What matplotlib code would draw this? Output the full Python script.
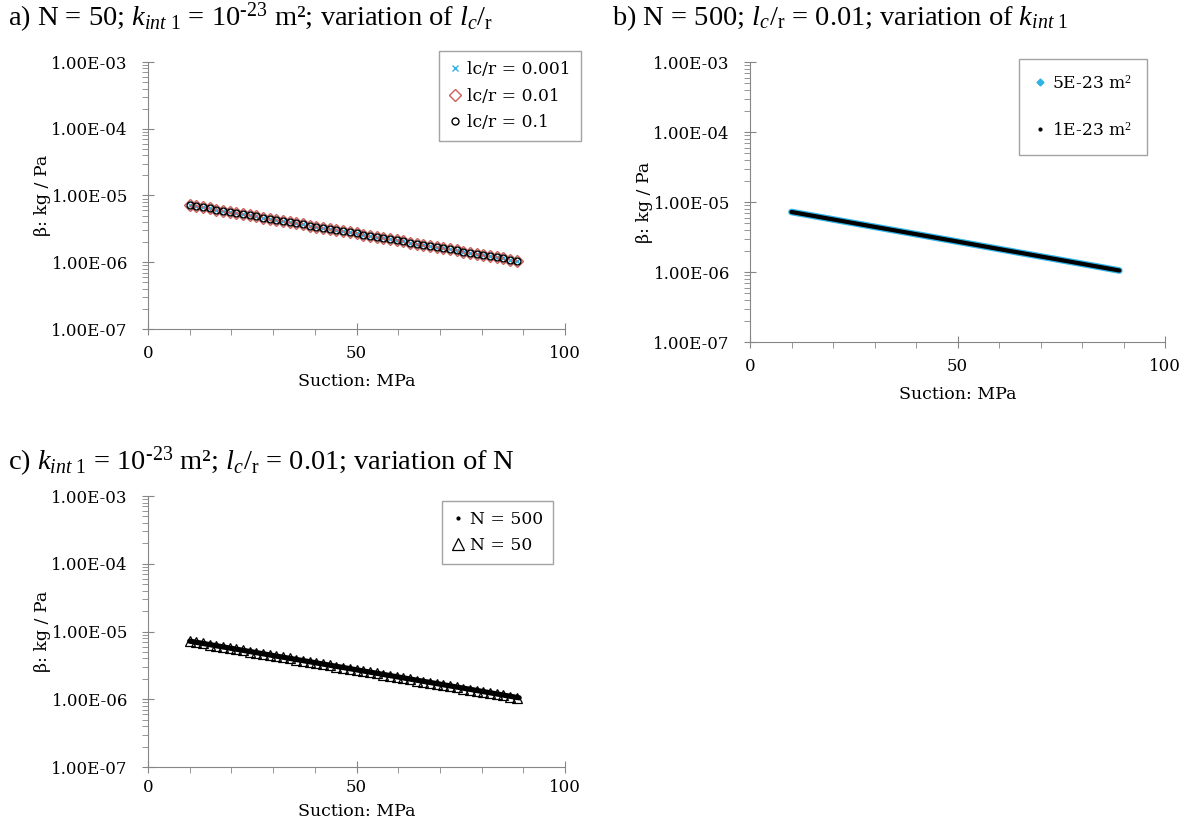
import matplotlib.pyplot as plt
import matplotlib.ticker as mticker
from matplotlib.lines import Line2D

plt.rcParams['mathtext.fontset'] = 'custom'
plt.rcParams['mathtext.rm'] = 'Liberation Serif'
plt.rcParams['mathtext.it'] = 'Liberation Serif:italic'

# N = 50 points
suction_50 = [10.0, 11.6, 13.2, 14.8, 16.4, 18.0, 19.6, 21.2, 22.8, 24.4,
              26.0, 27.6, 29.2, 30.8, 32.4, 34.0, 35.6, 37.2, 38.8, 40.4,
              42.0, 43.6, 45.2, 46.8, 48.4, 50.0, 51.6, 53.2, 54.8, 56.4,
              58.0, 59.6, 61.2, 62.8, 64.4, 66.0, 67.6, 69.2, 70.8, 72.4,
              74.0, 75.6, 77.2, 78.8, 80.4, 82.0, 83.6, 85.2, 86.8, 88.4]
beta_50 = [7.20e-6, 6.92e-6, 6.66e-6, 6.40e-6, 6.15e-6, 5.92e-6, 5.69e-6, 5.47e-6, 5.26e-6, 5.06e-6,
           4.86e-6, 4.67e-6, 4.49e-6, 4.32e-6, 4.16e-6, 4.00e-6, 3.84e-6, 3.69e-6, 3.55e-6, 3.41e-6,
           3.28e-6, 3.16e-6, 3.03e-6, 2.92e-6, 2.81e-6, 2.70e-6, 2.59e-6, 2.49e-6, 2.40e-6, 2.31e-6,
           2.22e-6, 2.13e-6, 2.05e-6, 1.97e-6, 1.89e-6, 1.82e-6, 1.75e-6, 1.68e-6, 1.62e-6, 1.56e-6,
           1.50e-6, 1.44e-6, 1.38e-6, 1.33e-6, 1.28e-6, 1.23e-6, 1.18e-6, 1.14e-6, 1.09e-6, 1.05e-6]

# N = 500 curve (dense dots, read at a few positions along it)
suction_500 = [10, 20, 30, 40, 50, 60, 70, 80, 89]
beta_500 = [7.2e-6, 5.64e-6, 4.42e-6, 3.47e-6, 2.72e-6, 2.13e-6, 1.67e-6, 1.31e-6, 1.05e-6]

a_labels = ['lc/r = 0.001', 'lc/r = 0.01', 'lc/r = 0.1']
b_labels = ['5E-23 m$^2$', '1E-23 m$^2$']
c_labels = ['N = 500', 'N = 50']

cyan = '#2FB2E6'
red = '#C9605C'
axcol = '#868686'
tfont = 'DejaVu Serif'
fs = 12
W, H = 1195, 830

fig = plt.figure(figsize=(W / 100, H / 100), dpi=100)


def px_axes(l, t, r, b):
    return fig.add_axes([l / W, 1 - b / H, (r - l) / W, (b - t) / H])


def style(ax, xpad=7, xlpad=8):
    ax.set_yscale('log')
    ax.set_ylim(1e-7, 1e-3)
    ax.set_xlim(0, 100)
    ax.set_xticks([0, 50, 100])
    ax.xaxis.set_minor_locator(mticker.MultipleLocator(10))
    ax.yaxis.set_major_locator(mticker.LogLocator(base=10, numticks=10))
    ax.yaxis.set_minor_locator(mticker.LogLocator(base=10, subs=range(2, 10), numticks=20))
    ax.yaxis.set_major_formatter(mticker.FuncFormatter(lambda v, p: f'{v:.2E}'))
    ax.yaxis.set_minor_formatter(mticker.NullFormatter())
    for s in ['top', 'right']:
        ax.spines[s].set_visible(False)
    for s in ['left', 'bottom']:
        ax.spines[s].set_color(axcol)
    ax.tick_params(which='major', direction='inout', length=9, color=axcol,
                   labelsize=fs, labelcolor='black')
    ax.tick_params(axis='y', which='major', pad=10)
    ax.tick_params(axis='x', which='major', pad=xpad)
    ax.tick_params(which='minor', direction='out', length=4.5, color=axcol)
    for lab in ax.get_xticklabels() + ax.get_yticklabels():
        lab.set_family(tfont)
    ax.set_xlabel('Suction: MPa', family=tfont, fontsize=12.5, labelpad=xlpad)
    ax.set_ylabel('β: kg / Pa', family=tfont, fontsize=12.5, labelpad=0.5)


def legend(ax, handles, labels, box, spacing, bpad=0.6):
    l, t, r, b = box
    leg = ax.legend(handles, labels, loc='center', frameon=True, fancybox=False,
                    bbox_to_anchor=(l / W, 1 - b / H, (r - l) / W, (b - t) / H),
                    bbox_transform=fig.transFigure,
                    prop={'family': tfont, 'size': 12.3}, handlelength=0.7,
                    handletextpad=0.35, borderpad=bpad, labelspacing=spacing,
                    borderaxespad=0)
    leg.get_frame().set_edgecolor('#8C8C8C')
    leg.get_frame().set_linewidth(1.0)
    return leg


# a)
ax1 = px_axes(148, 62, 565, 329)
style(ax1)
h1 = ax1.plot(suction_50, beta_50, 'x', color=cyan, ms=5, mew=1.0, ls='none')[0]
h2 = ax1.plot(suction_50, beta_50, 'D', mfc='none', mec=red, ms=6.5, mew=1.0, ls='none')[0]
h3 = ax1.plot(suction_50, beta_50, 'o', mfc='none', mec='black', ms=5, mew=1.0, ls='none')[0]
legend(ax1, [h1, h2, h3], a_labels, (433, 55, 587, 137), 0.55)

# b)
ax2 = px_axes(750, 62, 1165, 342)
style(ax2)
ax2.plot(suction_500, beta_500, color=cyan, lw=4.8, solid_capstyle='round')
ax2.plot(suction_500, beta_500, color='black', lw=3.0, solid_capstyle='round')
hb = [Line2D([], [], marker='D', color=cyan, ms=3.5, ls='none'),
      Line2D([], [], marker='o', color='black', ms=2, ls='none')]
legend(ax2, hb, b_labels, (1006, 63, 1160, 151), 1.7, bpad=0.9)

# c)
ax3 = px_axes(148, 496, 565, 767)
style(ax3, xpad=4, xlpad=5)
ax3.plot(suction_50, beta_50, '^', mfc='none', mec='black', ms=7.5, mew=0.9, ls='none', zorder=2)
ax3.plot(suction_500, beta_500, color='black', lw=3.8, solid_capstyle='round', zorder=3)
hc = [Line2D([], [], marker='o', color='black', ms=2, ls='none'),
      Line2D([], [], marker='^', mfc='none', mec='black', ms=9, mew=0.9, ls='none')]
legend(ax3, hc, c_labels, (440, 499, 555, 566), 0.55)

# panel titles
tkw = dict(family='Liberation Serif', fontsize=20.5, va='center', ha='left')
fig.text(8 / W, 1 - 18 / H,
         r'a) N = 50; $\mathit{k_{int\ 1}}$ = 10$^{\text{-23}}$ m²; variation of $l_c$/$_{\mathrm{r}}$', **tkw)
fig.text(612 / W, 1 - 18 / H,
         r'b) N = 500; $l_c$/$_{\mathrm{r}}$ = 0.01; variation of $\mathit{k_{int\ 1}}$', **tkw)
fig.text(8 / W, 1 - 462 / H,
         r'c) $\mathit{k_{int\ 1}}$ = 10$^{\text{-23}}$ m²; $l_c$/$_{\mathrm{r}}$ = 0.01; variation of N', **tkw)

fig.savefig('out.png', dpi=100)
